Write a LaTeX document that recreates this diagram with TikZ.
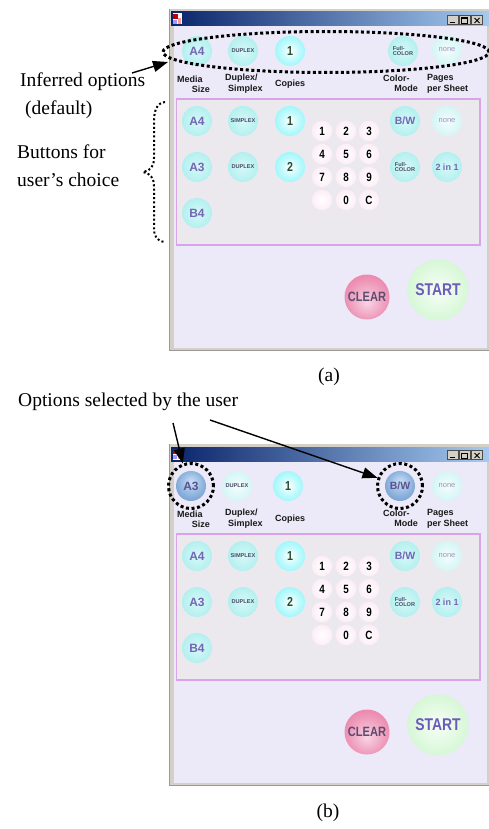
\documentclass[tikz,border=0pt]{standalone}
\usepackage{fontspec}
\setmainfont{Liberation Serif}
\newfontfamily\uisans{Liberation Sans}
\newfontfamily\uicond[FakeStretch=0.82]{Liberation Sans}
\usetikzlibrary{arrows.meta,shapes.geometric}
\definecolor{cyanE}{HTML}{88E6E4}
\definecolor{cyanC}{HTML}{D6F8F8}
\definecolor{vivE}{HTML}{5EF2F8}
\definecolor{paleE}{HTML}{B6EEEE}
\definecolor{pinkE}{HTML}{F2ACD6}
\definecolor{clearE}{HTML}{E4588A}
\definecolor{clearC}{HTML}{F8D4E4}
\definecolor{startE}{HTML}{A4EEA4}
\definecolor{selE}{HTML}{4A7EC0}
\definecolor{selC}{HTML}{C8E0F6}
\definecolor{winbg}{HTML}{ECEAF8}
\definecolor{panelbg}{HTML}{ECE9EE}
\definecolor{panelline}{HTML}{D8A4E8}
\definecolor{framegray}{HTML}{D4D0C8}
\definecolor{titleL}{HTML}{0A246A}
\definecolor{titleR}{HTML}{A6CAF0}
\definecolor{btnpurple}{HTML}{7466B4}
\definecolor{numgreen}{HTML}{2C4A30}
\definecolor{tinygray}{HTML}{4A4A66}
\definecolor{nonegray}{HTML}{9A96B8}
\definecolor{lblblack}{HTML}{1A1A1A}
\definecolor{cleartext}{HTML}{5C4C70}
\definecolor{starttext}{HTML}{6A5CB8}
\pgfdeclareradialshading{cyanS}{\pgfpointorigin}{color(0bp)=(cyanC); color(20bp)=(cyanC!65!cyanE); color(50bp)=(cyanE)}
\pgfdeclareradialshading{vivS}{\pgfpointorigin}{color(0bp)=(white); color(18bp)=(white!55!vivE); color(50bp)=(vivE)}
\pgfdeclareradialshading{paleS}{\pgfpointorigin}{color(0bp)=(white!85!paleE); color(50bp)=(paleE)}
\pgfdeclareradialshading{pinkS}{\pgfpointorigin}{color(0bp)=(white); color(30bp)=(white!75!pinkE); color(44bp)=(pinkE); color(50bp)=(pinkE!80!white)}
\pgfdeclareradialshading{clearS}{\pgfpoint{0bp}{-6bp}}{color(0bp)=(clearC); color(22bp)=(clearC!50!clearE); color(50bp)=(clearE)}
\pgfdeclareradialshading{startS}{\pgfpointorigin}{color(0bp)=(white!92!startE); color(25bp)=(white!55!startE); color(50bp)=(startE)}
\pgfdeclareradialshading{selS}{\pgfpoint{0bp}{8bp}}{color(0bp)=(selC); color(22bp)=(selC!50!selE); color(50bp)=(selE)}

\newcommand\uiwin[1]{%
  % frame and background
  \fill[framegray] (169,9) rectangle (489,351);
  \draw[gray!80, line width=0.8pt] (169.4,9) -- (169.4,350.6) -- (489,350.6);
  \fill[winbg] (174,26) rectangle (487,347.5);
  \shade[left color=titleL, right color=titleR] (171,12) rectangle (489,26);
  % icon
  \fill[white] (172.5,13.5) rectangle (181.5,24.5);
  \fill[red!75!black] (173,14) rectangle (177.5,19);
  \fill[pink!80!red] (177.5,18) rectangle (181,24);
  \fill[blue!40] (173,20) rectangle (176.5,24);
  % title buttons
  \foreach \xx in {447,459,471} \filldraw[draw=gray!60!black, fill=framegray, line width=0.5pt] (\xx,15.5) rectangle ++(11,9);
  \draw[line width=1.1pt] (449.5,22.3) -- (454.5,22.3);
  \draw[line width=0.6pt] (461.5,17.8) rectangle (467.5,23);
  \draw[line width=1pt] (461.5,18.2) -- (467.5,18.2);
  \draw[line width=0.9pt] (474.5,18) -- (479.5,23) (479.5,18) -- (474.5,23);
  % labels
  \node[lbl, anchor=west] (#1-lm) at (177,79) {Media};
  \node[lbl, anchor=east] (#1-ls) at (210,89) {Size};
  \node[lbl, anchor=west] (#1-ld) at (225,78.5) {Duplex/};
  \node[lbl, anchor=west] (#1-lsx) at (228,89) {Simplex};
  \node[lbl, anchor=west] (#1-lc) at (275,84) {Copies};
  \node[lbl, anchor=west] (#1-lcm) at (383,78) {Color-};
  \node[lbl, anchor=east] (#1-lmo) at (418,88.5) {Mode};
  \node[lbl, anchor=west] (#1-lp) at (427,78.5) {Pages};
  \node[lbl, anchor=west] (#1-lps) at (427,89) {per Sheet};
  % panel
  \draw[panelline, fill=panelbg, line width=1.4pt] (176.5,99) rectangle (480,245);
  % panel buttons
  \node[btn, tA] (#1-A4) at (197,121) {A4};
  \node[btn, tT] (#1-SX) at (243,121) {SIMPLEX};
  \node[vivid, tN] (#1-c1) at (290,121) {1};
  \node[btn, tBW] (#1-BW) at (405,121) {B/W};
  \node[pale, tNone] (#1-no) at (447,121) {none};
  \node[btn, tA] (#1-A3) at (197,167) {A3};
  \node[btn, tT] (#1-DX) at (243,167) {DUPLEX};
  \node[vivid, tN] (#1-c2) at (290,167) {2};
  \node[btn, tT] (#1-FC) at (405,167) {Full-\\COLOR};
  \node[btn, tBW, font=\uisans\bfseries\fontsize{9}{9}\selectfont] (#1-2in1) at (447,167) {2 in 1};
  \node[btn, tA] (#1-B4) at (197,213) {B4};
  % numeric pad
  \foreach \lab/\px/\py/\nm in {1/322/131/k1, 2/346/131/k2, 3/369/131/k3,
      4/322/154/k4, 5/346/154/k5, 6/369/154/k6,
      7/322/177/k7, 8/346/177/k8, 9/369/177/k9,
      0/346/200/k0, C/369/200/kC}
    \node[padbtn] (#1-\nm) at (\px,\py) {\lab};
  \node[padbtn] (#1-kd) at (322,200) {};
  % clear and start
  \node[circle, minimum size=45pt, inner sep=0pt, shade, shading=clearS,
        font=\uicond\bfseries\fontsize{13.5}{14}\selectfont, text=cleartext] (#1-clear) at (367,297) {CLEAR};
  \node[circle, minimum size=61pt, inner sep=0pt, shade, shading=startS,
        font=\uicond\bfseries\fontsize{17}{17}\selectfont, text=starttext] (#1-start) at (438,290) {START};
}

\begin{document}
\begin{tikzpicture}[x=1pt,y=-1pt,
  btn/.style={circle, minimum size=30pt, inner sep=0pt, shade, shading=cyanS},
  vivid/.style={btn, shading=vivS},
  pale/.style={btn, shading=paleS},
  selbtn/.style={btn, shading=selS},
  padbtn/.style={circle, minimum size=20.5pt, inner sep=0pt, shade, shading=pinkS,
     font=\uicond\bfseries\fontsize{12}{12}\selectfont},
  tA/.style={font=\uisans\bfseries\fontsize{12}{12}\selectfont, text=btnpurple},
  tN/.style={font=\uicond\bfseries\fontsize{13}{12}\selectfont, text=numgreen},
  tT/.style={font=\uisans\bfseries\fontsize{5.6}{5.4}\selectfont, text=tinygray, align=left},
  tNone/.style={font=\uisans\fontsize{7.5}{8}\selectfont, text=nonegray},
  tBW/.style={font=\uisans\bfseries\fontsize{10.5}{11}\selectfont, text=btnpurple},
  lbl/.style={font=\uisans\bfseries\fontsize{9}{9}\selectfont, inner sep=0pt, text=lblblack},
  ann/.style={font=\fontsize{19.5}{22}\selectfont, inner sep=0pt},
  dotline/.style={line width=3pt, dash pattern=on 3pt off 2.6pt},
  smalldots/.style={line width=2pt, dash pattern=on 2pt off 2.3pt},
  arr/.style={line width=1.4pt, -{Triangle[length=15pt,width=11pt]}}
]
\useasboundingbox (0,0) rectangle (488,829);
\fill[white] (0,0) rectangle (488,829);

% ---------------- (a) ----------------
\uiwin{a}
\node[btn, tA] (a-tA4) at (197,51) {A4};
\node[btn, tT] (a-tDX) at (243,51) {DUPLEX};
\node[vivid, tN] (a-t1) at (290,51) {1};
\node[btn, tT] (a-tFC) at (403,51) {Full-\\COLOR};
\node[pale, tNone] (a-tno) at (447,50) {none};
\node[ellipse, draw, dotline, minimum width=326pt, minimum height=41pt, inner sep=0pt] (infl) at (326,52) {};

\node[ann, anchor=west] (inf) at (20,82) {Inferred options};
\node[ann, anchor=west] (dflt) at (25,110) {(default)};
\node[ann, anchor=west] (bfor) at (17,152) {Buttons for};
\node[ann, anchor=west] (uch) at (17,180) {user’s choice};
\coordinate (infS) at (132,73);
\coordinate (infT) at (168,62);
\draw[arr] (infS) -- (infT);
\draw[smalldots] (165,102) .. controls (157,103) and (154,110) .. (154,122) -- (154,158)
  .. controls (154,167) and (150,171) .. (143,172)
  .. controls (150,173) and (154,178) .. (154,186) -- (154,228)
  .. controls (154,237) and (157,241) .. (165,242);
\node[ann] (capa) at (329,377) {(a)};

% ---------------- (b) ----------------
\begin{scope}[shift={(0,435)}]
\uiwin{b}
\node[selbtn, font=\uisans\bfseries\fontsize{12}{12}\selectfont, text=btnpurple!80!black] (b-tA3) at (191,51) {A3};
\node[pale, tT] (b-tDX) at (237,51) {DUPLEX};
\node[vivid, tN] (b-t1) at (288,51) {1};
\node[selbtn, font=\uisans\bfseries\fontsize{10.5}{11}\selectfont, text=btnpurple!80!black] (b-tBW) at (400,51) {B/W};
\node[pale, tNone] (b-tno) at (447,51) {none};
\node[circle, draw, dotline, minimum size=45pt, inner sep=0pt] (selA) at (191,51) {};
\node[circle, draw, dotline, minimum size=45pt, inner sep=0pt] (selB) at (400,51) {};
\end{scope}

\node[ann, anchor=west] (opts) at (18,402) {Options selected by the user};
\coordinate (oS1) at (173,423);
\coordinate (oS2) at (210,420);
\draw[arr] (oS1) -- (selA.110);
\draw[arr] (oS2) -- (selB.160);
\node[ann] (capb) at (328,813) {(b)};
\end{tikzpicture}
\end{document}
